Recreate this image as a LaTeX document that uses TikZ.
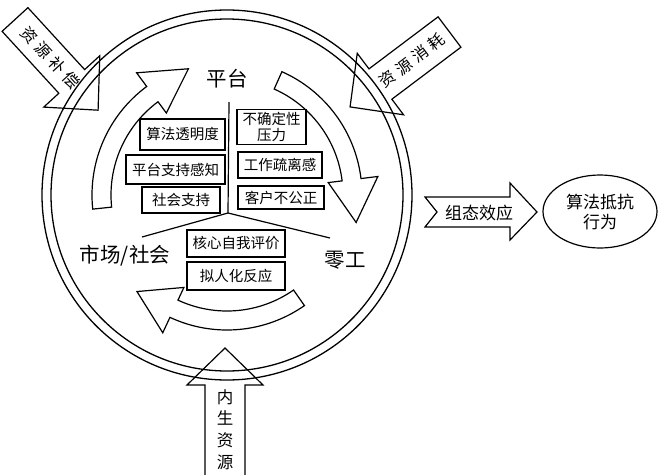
\documentclass[tikz,border=0pt]{standalone}
\usepackage{fontspec}
\newfontfamily\cjk{Noto Sans CJK SC}
\usetikzlibrary{calc,shapes.geometric}
\tikzset{
  ring/.style={line width=1.3pt},
  blockarrow/.style={line width=1.2pt, line join=miter},
  band/.style={line width=1.2pt, line join=miter},
  box/.style={draw, line width=1.3pt, inner sep=0pt, font=\cjk\fontsize{14.5}{17}\selectfont},
  biglabel/.style={font=\cjk\fontsize{20.5}{24}\selectfont, inner sep=0pt},
  arrowtext/.style={font=\cjk\fontsize{16}{20}\selectfont, inner sep=0pt},
  divider/.style={line width=1.2pt}
}
\newcommand{\hollowarrow}[3]{%
  \draw[band] (#1:135) arc[start angle=#1, end angle=#2, radius=135]
    -- (#2:152) -- (#3:132) -- (#2:102) -- (#2:116)
    arc[start angle=#2, end angle=#1, radius=116] -- cycle;}
\begin{document}
\begin{tikzpicture}[x=1pt,y=1pt]
\useasboundingbox (0,0) rectangle (666,-474);

% rings
\coordinate (C) at (227,-195);
\draw[ring] (C) circle[radius=185];
\draw[ring] (C) circle[radius=176];

% hollow circular arrows
\begin{scope}[shift={(C)}]
  \hollowarrow{186}{126.5}{107}
  \hollowarrow{66}{7}{-12}
  \hollowarrow{305}{245}{227}
\end{scope}

% labels
\node[biglabel] (pt) at (227,-79) {平台};
\node[biglabel] (sc) at (125,-256) {市场/社会};
\node[biglabel] (lg) at (345,-260) {零工};

% divider lines
\coordinate (vt) at (229,-102);
\coordinate (apex) at (228,-213);
\coordinate (dl) at (142,-237);
\coordinate (dr) at (330,-238);
\draw[divider] (vt) -- (apex);
\draw[divider] (dl) -- (apex) -- (dr);

% boxes
\node[box, minimum width=85, minimum height=31] (b1) at (182.5,-134.5) {算法透明度};
\node[box, minimum width=99, minimum height=29] (b2) at (175.5,-169.5) {平台支持感知};
\node[box, minimum width=78, minimum height=26] (b3) at (181,-200) {社会支持};
\node[box, minimum width=69, minimum height=35, align=center, font=\cjk\fontsize{14.5}{15.5}\selectfont] (b4) at (271.5,-127) {不确定性\\压力};
\node[box, minimum width=84, minimum height=26] (b5) at (280,-165) {工作疏离感};
\node[box, minimum width=86, minimum height=23] (b6) at (281,-197.5) {客户不公正};
\node[box, minimum width=98, minimum height=27] (b7) at (236,-243.5) {核心自我评价};
\node[box, minimum width=98, minimum height=28] (b8) at (236,-276) {拟人化反应};

% top-left block arrow
\begin{scope}[shift={(15,-19.5)}, rotate=-47.5]
  \draw[blockarrow] (0,17.5) -- (84,17.5) -- (84,38) -- (123,0) -- (84,-38) -- (84,-17.5) -- (0,-17.5) -- cycle;
  \node[arrowtext, rotate=-47.5] (bc) at (52,0) {资\hspace{4.5pt}源\hspace{4.5pt}补\hspace{4.5pt}偿};
\end{scope}

% top-right block arrow
\begin{scope}[shift={(449.5,-32)}, rotate=217]
  \draw[blockarrow] (0,19) -- (86.5,19) -- (86.5,38.5) -- (124.5,0) -- (86.5,-38.5) -- (86.5,-19) -- (0,-19) -- cycle;
  \node[arrowtext, rotate=37] (xh) at (47,0) {资\hspace{4.5pt}源\hspace{4.5pt}消\hspace{4.5pt}耗};
\end{scope}

% bottom block arrow
\draw[blockarrow] (205,-480) -- (205,-385) -- (187,-385) -- (225,-348) -- (263,-385) -- (245,-385) -- (245,-480);
\node[arrowtext, align=center, font=\cjk\fontsize{16.5}{21.7}\selectfont] (ns) at (225,-429.5) {内\\生\\资\\源};

% right notched arrow
\draw[blockarrow] (425,-197) -- (510,-197) -- (510,-183) -- (537,-212) -- (510,-240) -- (510,-227) -- (425,-227) -- (437,-212) -- cycle;
\node[arrowtext, font=\cjk\fontsize{17}{20}\selectfont] (zt) at (479,-213) {组态效应};

% outcome ellipse
\node[ellipse, draw, line width=1.2pt, minimum width=114, minimum height=73, inner sep=0pt, align=center,
      font=\cjk\fontsize{17}{20}\selectfont] (res) at (600,-211.5) {算法抵抗\\行为};
\end{tikzpicture}
\end{document}
